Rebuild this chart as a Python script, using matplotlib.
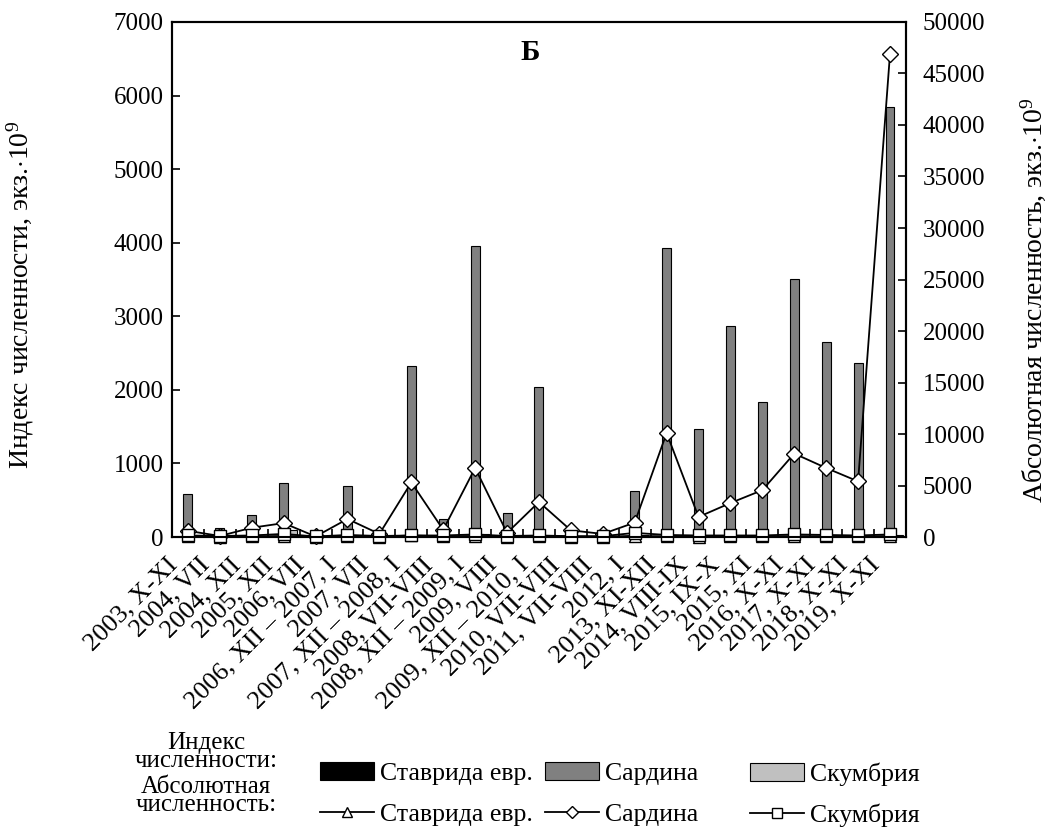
import numpy as np
import matplotlib
matplotlib.use('Agg')
import matplotlib.pyplot as plt
import matplotlib.transforms as mtransforms
from matplotlib.lines import Line2D
from matplotlib.patches import Patch

plt.rcParams['font.family'] = ['Liberation Serif', 'DejaVu Serif']
plt.rcParams['mathtext.fontset'] = 'custom'
plt.rcParams['mathtext.rm'] = 'Liberation Serif'
plt.rcParams['mathtext.it'] = 'Liberation Serif:italic'
plt.rcParams['font.size'] = 18

# периоды съёмок
labels = ['2003, X-XI', '2004, VII', '2004, XII', '2005, XII', '2006, VII',
          '2006, XII – 2007, I', '2007, VII', '2007, XII – 2008, I',
          '2008, VII-VIII', '2008, XII – 2009, I', '2009, VIII',
          '2009, XII – 2010, I', '2010, VII-VIII', '2011, VII-VIII', '2012, I',
          '2013, XI-XII', '2014, VIII-IX', '2015, IX-X', '2015, XI',
          '2016, X-XI', '2017, X-XI', '2018, X-XI', '2019, X-XI']

# индекс численности (левая ось)
stav_idx = [3, 1, 2, 5, 1, 4, 2, 20, 3, 15, 2, 8, 1, 1, 5, 10, 4, 6, 5, 8, 6, 5, 10]
sard_idx = [590, 120, 300, 740, 10, 690, 90, 2330, 250, 3950, 320, 2040, 15, 30,
            620, 3930, 1470, 2870, 1840, 3510, 2650, 2370, 5850]
skum_idx = [10, 5, 15, 90, 2, 20, 10, 15, 10, 40, 8, 10, 5, 5, 30, 20, 10, 15,
            10, 20, 15, 10, 25]

# абсолютная численность (правая ось)
stav_abs = [80, 20, 60, 100, 10, 50, 30, 150, 60, 100, 40, 80, 30, 20, 120, 60,
            40, 50, 60, 80, 70, 50, 90]
sard_abs = [600, 100, 900, 1350, 50, 1750, 300, 5300, 700, 6700, 400, 3400, 650,
            300, 1400, 10100, 1950, 3300, 4550, 8100, 6700, 5400, 46900]
skum_abs = [150, 100, 150, 300, 50, 200, 100, 150, 150, 250, 100, 150, 80, 80,
            400, 200, 150, 150, 150, 250, 200, 150, 250]

n = len(labels)
x = np.arange(n)
w = 0.28

fig = plt.figure(figsize=(10.57, 8.30), dpi=100)
ax = fig.add_axes([0.1627, 0.353, 0.6944, 0.6205])

ax.bar(x - w, stav_idx, w, color='black', edgecolor='black', lw=0.8)
ax.bar(x, sard_idx, w, color='#808080', edgecolor='black', lw=0.8)
ax.bar(x + w, skum_idx, w, color='#c0c0c0', edgecolor='black', lw=0.8)
ax.set_xlim(-0.5, n - 0.5)
ax.set_ylim(0, 7000)
ax.set_yticks(range(0, 7001, 1000))

ax.set_xticks(x)
ax.set_xticklabels(labels, rotation=45, ha='right', va='center',
                   rotation_mode='anchor', fontsize=19)
ax.set_xticks(x[:-1] + 0.5, minor=True)
ax.tick_params(axis='x', which='major', length=0, pad=14)
ax.tick_params(axis='x', which='minor', direction='in', length=6, width=1.2)
ax.tick_params(axis='y', direction='in', length=6, width=1.2, pad=6)
shift = mtransforms.ScaledTranslation(-0.14, -0.05, fig.dpi_scale_trans)
for lab in ax.get_xticklabels():
    lab.set_transform(lab.get_transform() + shift)

ax2 = ax.twinx()
ax2.set_ylim(0, 50000)
ax2.set_yticks(range(0, 50001, 5000))
ax2.tick_params(axis='y', direction='in', length=6, width=1.2, pad=12)
ax2.plot(x, stav_abs, '-^', color='black', mfc='white', mec='black', ms=9,
         lw=1.3, clip_on=False)
ax2.plot(x, sard_abs, '-D', color='black', mfc='white', mec='black', ms=8,
         lw=1.3, clip_on=False)
ax2.plot(x, skum_abs, '-s', color='black', mfc='white', mec='black', ms=9,
         lw=1.3, clip_on=False)

for a in (ax, ax2):
    for s in a.spines.values():
        s.set_linewidth(1.5)

ax.text(0.488, 0.94, 'Б', transform=ax.transAxes, ha='center', va='center',
        fontweight='bold', fontsize=21)

fig.text(20 / 1057, 1 - 295 / 830, r'Индекс численности, экз.$\cdot$10$^{9}$',
         rotation=90, ha='center', va='center', fontsize=20)
fig.text(1033 / 1057, 1 - 300 / 830, r'Абсолютная численность, экз.$\cdot$10$^{9}$',
         rotation=90, ha='center', va='center', fontsize=20)

# легенда
fig.text(206 / 1057, 1 - 752 / 830, 'Индекс\nчисленности:', ha='center',
         va='center', linespacing=0.8, fontsize=18)
fig.text(206 / 1057, 1 - 796 / 830, 'Абсолютная\nчисленность:', ha='center',
         va='center', linespacing=0.8, fontsize=18)

names = ['Ставрида евр.', 'Сардина', 'Скумбрия']
colors = ['black', '#808080', '#c0c0c0']
markers = ['^', 'D', 's']
msizes = [7, 6, 7]
xs = [320, 545, 750]
for name, c, m, ms, xl in zip(names, colors, markers, msizes, xs):
    h = [Patch(facecolor=c, edgecolor='black', lw=0.8),
         Line2D([], [], color='black', marker=m, mfc='white', mec='black',
                ms=ms, lw=1.3)]
    fig.legend(h, [name, name], loc='upper left',
               bbox_to_anchor=(xl / 1057, 1 - 762 / 830), frameon=False,
               fontsize=18.5, handlelength=2.1, handletextpad=0.25,
               labelspacing=0.7, borderpad=0, borderaxespad=0)

fig.savefig('out.png', dpi=100)
